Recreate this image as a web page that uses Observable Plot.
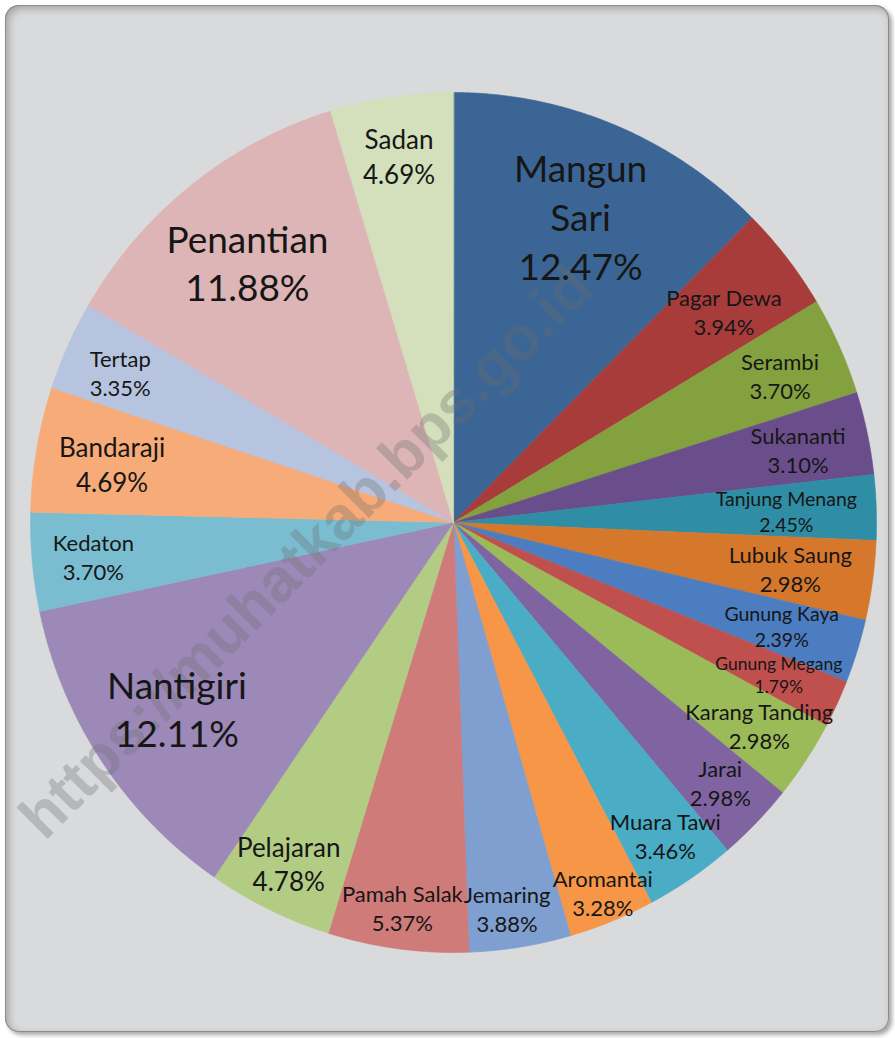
<!DOCTYPE html>
<html>
<head>
<meta charset="utf-8">
<script src="https://cdn.jsdelivr.net/npm/d3@7"></script>
<script src="https://cdn.jsdelivr.net/npm/@observablehq/plot@0.6"></script>
<style>
  html, body { margin: 0; padding: 0; background: #ffffff; }
  #wrap { position: relative; width: 895px; height: 1038px; overflow: hidden; }
  #bg {
    position: absolute; left: 5px; top: 5px; width: 884px; height: 1027px;
    border-radius: 14px; background: #d9dadc;
    box-shadow: inset 0 0 0 1px #8c8c8c, inset 3px 3px 8px rgba(0,0,0,0.28), 3px 3px 4px rgba(0,0,0,0.35);
  }
  #chart { position: absolute; left: 0; top: 0; }
</style>
</head>
<body>
<div id="wrap"><div id="bg"></div><div id="chart"></div></div>
<script>
// ---- data (clockwise from 12 o'clock) ----
const names = ["Mangun Sari","Pagar Dewa","Serambi","Sukananti","Tanjung Menang","Lubuk Saung",
  "Gunung Kaya","Gunung Megang","Karang Tanding","Jarai","Muara Tawi","Aromantai","Jemaring",
  "Pamah Salak","Pelajaran","Nantigiri","Kedaton","Bandaraji","Tertap","Penantian","Sadan"];
const values = [12.47,3.94,3.70,3.10,2.45,2.98,2.39,1.79,2.98,2.98,3.46,3.28,3.88,
  5.37,4.78,12.11,3.70,4.69,3.35,11.88,4.69];
const colors = ["#3b6595","#a83c3a","#84a13f","#6a4e8c","#2f8ea5","#d6782c",
  "#4b7dc0","#c0504d","#9bbb59","#8064a2","#4bacc6","#f79646","#7f9fd1",
  "#cf7b79","#b2cc84","#9c89b8","#7abdd1","#f7ab78","#b6c4e0","#ddb5b6","#d3e0bb"];
const watermark = "https://muhatkab.bps.go.id";

// ---- layout ----
const W = 895, H = 1038;
const mL = 30, mR = 19, mT = 92, mB = 86;
const rxPx = (W - mL - mR) / 2, ryPx = (H - mT - mB) / 2;
const R = (rxPx + ryPx) / 2;
const LH = 1.32;
const FONT = "Lato";

const total = d3.sum(values);
let cum = 0;
const slices = names.map((name, i) => {
  const a0 = cum / total * 2 * Math.PI;
  cum += values[i];
  const a1 = cum / total * 2 * Math.PI;
  return {name, value: values[i], a0, a1, mid: (a0 + a1) / 2};
});

// polygon vertices of each wedge, derived from the slice angles
const wedgePts = [];
for (const s of slices) {
  wedgePts.push({name: s.name, x: 0, y: 0});
  const n = Math.max(2, Math.ceil((s.a1 - s.a0) / (Math.PI / 360)));
  for (let k = 0; k <= n; k++) {
    const a = s.a0 + (s.a1 - s.a0) * k / n;
    wedgePts.push({name: s.name, x: Math.sin(a), y: Math.cos(a)});
  }
}

// ---- label placement rule (inside slice, near rim, then de-overlap) ----
const ctx = document.createElement("canvas").getContext("2d");
const measure = (t, fs) => { ctx.font = `${fs}px ${FONT}`; return ctx.measureText(t).width; };
const fontSizeOf = s => s.value > 10 ? 37
  : (s.value >= 4.5 && s.name.length <= 10) ? 26
  : s.value >= 2.9 ? 22 : s.value >= 2 ? 19.5 : 17.5;
const labelText = s => (s.value > 10 ? s.name.replace(/ /g, "\n") : s.name) + "\n" + s.value.toFixed(2) + "%";

const L = slices.map(s => {
  const fs = fontSizeOf(s);
  const text = labelText(s);
  const lines = text.split("\n");
  const hw = d3.max(lines, l => measure(l, fs)) / 2;
  const hh = lines.length * fs * LH / 2;
  const sn = Math.sin(s.mid), cs = Math.cos(s.mid);
  let r;
  if (s.value > 10) r = 0.78 * R;
  else {
    const m = 22 * sn * sn + (cs > 0 ? 16 : 1) * cs * cs;
    r = R - m - (Math.abs(sn) * hw + Math.abs(cs) * hh);
  }
  const boxH = ((lines.length - 1) * LH + 1.2) * fs / 2;
  return {...s, fs, text, hw, boxH, r, t: s.mid};
});
const pos = l => ({px: l.r * Math.sin(l.t), py: -l.r * Math.cos(l.t)});
const penetration = (a, b) => {
  const A = pos(a), B = pos(b);
  return {
    x: a.hw + b.hw + 1 - Math.abs(A.px - B.px), y: a.boxH + b.boxH + 1 - Math.abs(A.py - B.py),
    sx: Math.sign(B.px - A.px) || 1, sy: Math.sign(B.py - A.py) || 1
  };
};
const inside = l => {
  const p = pos(l);
  return Math.hypot(Math.abs(p.px) + l.hw, Math.abs(p.py) + l.boxH) < R + 20;
};
const deriv = (l, dir, kind, axis) => kind === "r"
  ? dir * (axis === "x" ? Math.sin(l.t) : -Math.cos(l.t))
  : dir * (axis === "x" ? Math.cos(l.t) : Math.sin(l.t));
const tryList = (kind, a, b, axis, rel, th) => {
  const list = [[b, +1], [a, +1], [b, -1], [a, -1]];
  for (const [l, dir] of list) {
    const sgn = l === b ? 1 : -1;
    const eff = sgn * deriv(l, dir, kind, axis) * rel;
    if (eff < th) continue;
    const or = l.r, ot = l.t;
    if (kind === "r") l.r += 2 * dir; else l.t += dir * 2 / l.r;
    let ok = l.r >= 0.45 * R;
    if (kind === "r" && dir > 0) ok = ok && inside(l);
    if (kind === "t") ok = ok && inside(l) && Math.abs(l.t - l.mid) <= 0.4 * (l.a1 - l.a0);
    if (ok) return true;
    l.r = or; l.t = ot;
  }
  return false;
};
for (let pass = 0; pass < 300; pass++) {
  let moved = false;
  for (let i = 0; i < L.length; i++) {
    const a = L[i], b = L[(i + 1) % L.length];
    const p = penetration(a, b);
    if (p.x <= 0 || p.y <= 0) continue;
    const ok = p.x < p.y
      ? (tryList("r", a, b, "x", p.sx, 0.3) || tryList("t", a, b, "x", p.sx, 0.5)
         || tryList("r", a, b, "x", p.sx, 0.15) || tryList("r", a, b, "y", p.sy, 0.15))
      : (tryList("r", a, b, "y", p.sy, 0.15) || tryList("r", a, b, "x", p.sx, 0.3)
         || tryList("t", a, b, "x", p.sx, 0.5));
    if (ok) moved = true;
  }
  if (!moved) break;
}
const labels = L.map(l => ({...l, x: l.r * Math.sin(l.t) / rxPx, y: l.r * Math.cos(l.t) / ryPx}));

const chart = Plot.plot({
  width: W, height: H,
  marginLeft: mL, marginRight: mR, marginTop: mT, marginBottom: mB,
  x: {domain: [-1, 1], axis: null},
  y: {domain: [-1, 1], axis: null},
  color: {domain: names, range: colors},
  style: {background: "transparent", fontFamily: `${FONT}, sans-serif`, overflow: "visible"},
  marks: [
    Plot.line(wedgePts, {x: "x", y: "y", z: "name", fill: "name", stroke: "name",
      strokeWidth: 0.6, curve: "linear-closed"}),
    Plot.text([watermark], {text: d => d, frameAnchor: "middle", dx: -147, dy: 30, rotate: -45,
      fontSize: 61, fontWeight: "bold", fontFamily: "Liberation Sans, Arial, sans-serif",
      fill: "#6e6e6e", fillOpacity: 0.32}),
    Plot.text(labels, {x: "x", y: "y", text: "text", fontSize: d => d.fs, lineHeight: LH,
      textAnchor: "middle", fill: "#161616"})
  ]
});
document.getElementById("chart").appendChild(chart);
</script>
</body>
</html>
